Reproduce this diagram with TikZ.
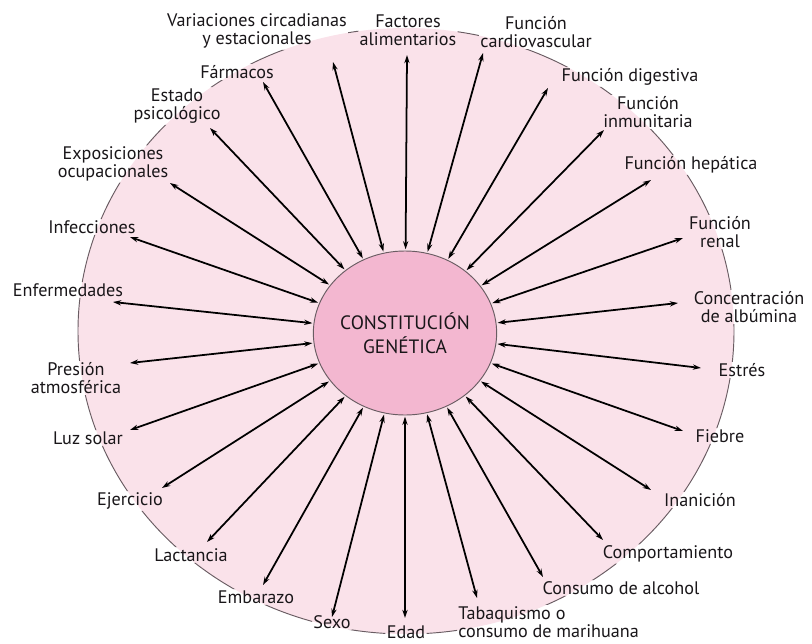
\documentclass[tikz,border=0pt]{standalone}
\usepackage{fontspec}
\setmainfont{PT Sans}
\usetikzlibrary{arrows.meta,shapes.geometric}
\definecolor{rosaclaro}{RGB}{250,226,234}
\definecolor{rosa}{RGB}{243,183,208}
\definecolor{gris}{RGB}{105,92,98}
\definecolor{texto}{RGB}{25,22,25}
\begin{document}
\begin{tikzpicture}[x=0.03cm, y=-0.03cm,
  font=\fontsize{15.5}{15.5}\selectfont,
  factor/.style={align=center, inner sep=1pt, text=texto},
  centro/.style={ellipse, minimum width=5.22cm, minimum height=4.92cm,
                 inner sep=0pt, fill=rosa, draw=gris, line width=0.8pt,
                 align=center, text=texto,
                 font=\fontsize{16.5}{20}\selectfont},
  arr/.style={{Stealth[length=7pt,width=4.5pt]}-{Stealth[length=7pt,width=4.5pt]},
              line width=1.5pt, shorten <=1pt},
  borde/.style={draw=gris, line width=0.8pt}
]
  \useasboundingbox (0,0) rectangle (812,643);
  % Fondo
  \fill[rosaclaro] (406,331) ellipse [x radius=328, y radius=303];
  % Factores
  \node[factor] (lVar) at (257,31)  {Variaciones circadianas\\y estacionales};
  \node[factor] (lFac) at (408,30)  {Factores\\alimentarios};
  \node[factor] (lCar) at (536,32)  {Función\\cardiovascular};
  \node[factor] (lDig) at (630,77)  {Función digestiva};
  \node[factor] (lInm) at (648,112) {Función\\inmunitaria};
  \node[factor] (lHep) at (691,165) {Función hepática};
  \node[factor] (lRen) at (720,232) {Función\\renal};
  \node[factor] (lAlb) at (749,307) {Concentración\\de albúmina};
  \node[factor] (lEst) at (742,370) {Estrés};
  \node[factor] (lFie) at (720,436) {Fiebre};
  \node[factor] (lIna) at (700,500) {Inanición};
  \node[factor] (lCom) at (668,554) {Comportamiento};
  \node[factor] (lAlc) at (621,588) {Consumo de alcohol};
  \node[factor, align=left, anchor=west] (lTab) at (457,622) {Tabaquismo o\\consumo de marihuana};
  \node[factor] (lEda) at (406,632) {Edad};
  \node[factor] (lSex) at (332,622) {Sexo};
  \node[factor] (lEmb) at (256,597) {Embarazo};
  \node[factor] (lLac) at (191,555) {Lactancia};
  \node[factor] (lEje) at (130,501) {Ejercicio};
  \node[factor] (lLuz) at (88,438)  {Luz solar};
  \node[factor] (lPre) at (76,378)  {Presión\\atmosférica};
  \node[factor] (lEnf) at (68,290)  {Enfermedades};
  \node[factor] (lInf) at (92,227)  {Infecciones};
  \node[factor] (lExp) at (113,164) {Exposiciones\\ocupacionales};
  \node[factor] (lPsi) at (177,106) {Estado\\psicológico};
  \node[factor] (lFar) at (237,72)  {Fármacos};
  % Contorno, cortado por los textos
  \begin{scope}[even odd rule]
    \clip (0,0) rectangle (812,643)
      (lVar.south west) rectangle (lVar.north east)
      (lFac.south west) rectangle (lFac.north east)
      (lCar.south west) rectangle (lCar.north east)
      (lDig.south west) rectangle (lDig.north east)
      (lInm.south west) rectangle (lInm.north east)
      (lHep.south west) rectangle (lHep.north east)
      (lRen.south west) rectangle (lRen.north east)
      (lAlb.south west) rectangle (lAlb.north east)
      (lEst.south west) rectangle (lEst.north east)
      (lFie.south west) rectangle (lFie.north east)
      (lIna.south west) rectangle (lIna.north east)
      (lCom.south west) rectangle (lCom.north east)
      (lAlc.south west) rectangle (lAlc.north east)
      (lTab.south west) rectangle (lTab.north east)
      (lEda.south west) rectangle (lEda.north east)
      (lSex.south west) rectangle (lSex.north east)
      (lEmb.south west) rectangle (lEmb.north east)
      (lLac.south west) rectangle (lLac.north east)
      (lEje.south west) rectangle (lEje.north east)
      (lLuz.south west) rectangle (lLuz.north east)
      (lPre.south west) rectangle (lPre.north east)
      (lEnf.south west) rectangle (lEnf.north east)
      (lInf.south west) rectangle (lInf.north east)
      (lExp.south west) rectangle (lExp.north east)
      (lPsi.south west) rectangle (lPsi.north east)
      (lFar.south west) rectangle (lFar.north east);
    \draw[borde] (406,331) ellipse [x radius=328, y radius=303];
  \end{scope}
  % Centro
  \node[centro] (cg) at (405,333) {CONSTITUCIÓN\\GENÉTICA};
  % Puntas exteriores
  \coordinate (tVar) at (333,62);
  \coordinate (tFac) at (407,55);
  \coordinate (tCar) at (483,53);
  \coordinate (tDig) at (548,88);
  \coordinate (tInm) at (604,130);
  \coordinate (tHep) at (651,180);
  \coordinate (tRen) at (683,238);
  \coordinate (tAlb) at (678,303);
  \coordinate (tEst) at (701,368);
  \coordinate (tFie) at (683,431);
  \coordinate (tIna) at (651,490);
  \coordinate (tCom) at (603,540);
  \coordinate (tAlc) at (543,577);
  \coordinate (tTab) at (477,598);
  \coordinate (tEda) at (405,618);
  \coordinate (tSex) at (332,617);
  \coordinate (tEmb) at (263,585);
  \coordinate (tLac) at (207,542);
  \coordinate (tEje) at (162,488);
  \coordinate (tLuz) at (130,430);
  \coordinate (tPre) at (130,363);
  \coordinate (tEnf) at (113,302);
  \coordinate (tInf) at (130,237);
  \coordinate (tExp) at (170,183);
  \coordinate (tPsi) at (210,128);
  \coordinate (tFar) at (263,82);
  % Flechas
  \draw[arr] (cg) -- (tVar);
  \draw[arr] (cg) -- (tFac);
  \draw[arr] (cg) -- (tCar);
  \draw[arr] (cg) -- (tDig);
  \draw[arr] (cg) -- (tInm);
  \draw[arr] (cg) -- (tHep);
  \draw[arr] (cg) -- (tRen);
  \draw[arr] (cg) -- (tAlb);
  \draw[arr] (cg) -- (tEst);
  \draw[arr] (cg) -- (tFie);
  \draw[arr] (cg) -- (tIna);
  \draw[arr] (cg) -- (tCom);
  \draw[arr] (cg) -- (tAlc);
  \draw[arr] (cg) -- (tTab);
  \draw[arr] (cg) -- (tEda);
  \draw[arr] (cg) -- (tSex);
  \draw[arr] (cg) -- (tEmb);
  \draw[arr] (cg) -- (tLac);
  \draw[arr] (cg) -- (tEje);
  \draw[arr] (cg) -- (tLuz);
  \draw[arr] (cg) -- (tPre);
  \draw[arr] (cg) -- (tEnf);
  \draw[arr] (cg) -- (tInf);
  \draw[arr] (cg) -- (tExp);
  \draw[arr] (cg) -- (tPsi);
  \draw[arr] (cg) -- (tFar);
\end{tikzpicture}
\end{document}
